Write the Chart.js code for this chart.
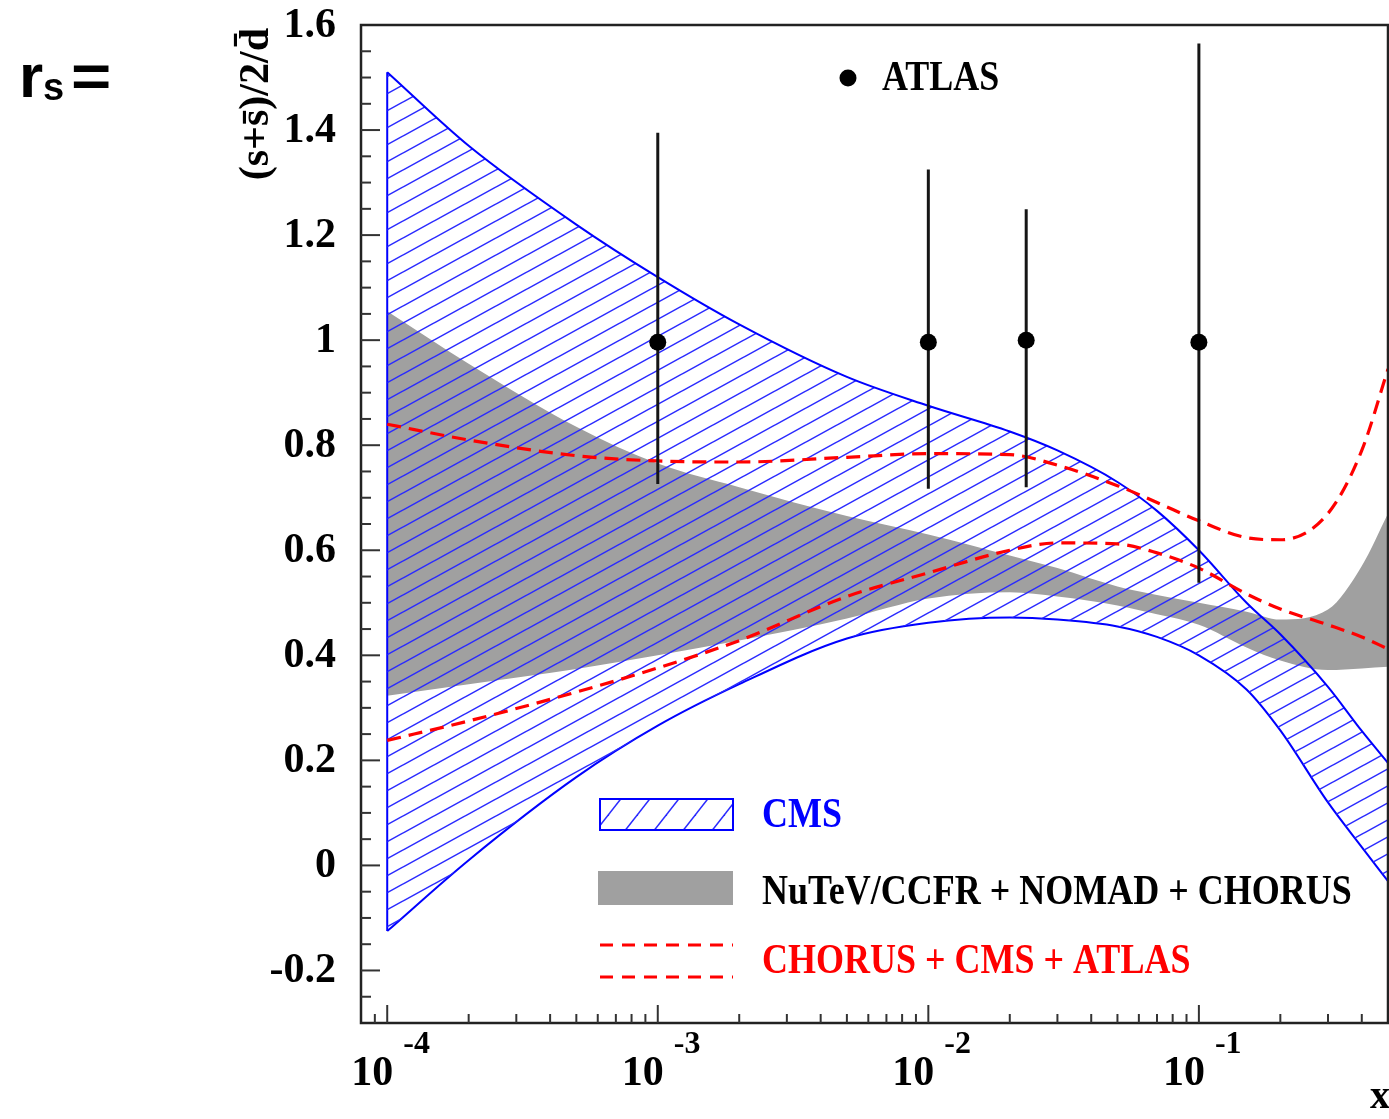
<!DOCTYPE html>
<html>
<head>
<meta charset="utf-8">
<script src="https://cdn.jsdelivr.net/npm/chart.js@4.4.1/dist/chart.umd.min.js"></script>
<style>
  html, body { margin: 0; padding: 0; background: #fff; }
  canvas { display: block; }
</style>
</head>
<body>
<canvas id="rs" width="1389" height="1119"></canvas>
<script>
const xGrid = [1e-4, 2e-4, 5e-4, 1e-3, 2e-3, 5e-3, 1e-2, 2e-2, 3e-2, 5e-2, 7e-2, 0.1, 0.15, 0.2, 0.3, 0.4, 0.5];

// CMS band (blue hatched)
const cmsHi = [1.51, 1.37, 1.22, 1.12, 1.03, 0.93, 0.875, 0.826, 0.79, 0.73, 0.675, 0.60, 0.50, 0.44, 0.34, 0.256, 0.195];
const cmsLo = [-0.125, 0.01, 0.168, 0.266, 0.345, 0.432, 0.462, 0.472, 0.468, 0.455, 0.435, 0.40, 0.335, 0.257, 0.12, 0.035, -0.03];

// NuTeV/CCFR + NOMAD + CHORUS band (grey)
const grayHi = [1.055, 0.955, 0.835, 0.765, 0.72, 0.665, 0.63, 0.59, 0.566, 0.531, 0.515, 0.50, 0.483, 0.468, 0.487, 0.57, 0.67];
const grayLo = [0.323, 0.345, 0.374, 0.40, 0.428, 0.47, 0.508, 0.52, 0.512, 0.495, 0.478, 0.458, 0.415, 0.39, 0.372, 0.375, 0.378];

// CHORUS + CMS + ATLAS (red dashed)
const redHi = [0.84, 0.81, 0.78, 0.77, 0.768, 0.777, 0.784, 0.782, 0.762, 0.723, 0.691, 0.656, 0.624, 0.62, 0.67, 0.79, 0.945];
const redLo = [0.238, 0.275, 0.33, 0.376, 0.428, 0.512, 0.557, 0.60, 0.614, 0.612, 0.595, 0.566, 0.517, 0.488, 0.458, 0.435, 0.412];

// ATLAS points
const atlasX = [0.001, 0.01, 0.023, 0.1];
const atlasY = [0.996, 0.996, 1.0, 0.996];
const atlasLo = [0.726, 0.717, 0.72, 0.538];
const atlasHi = [1.395, 1.325, 1.249, 1.565];

const decades = [-4, -3, -2, -1];
const yLabels = ["-0.2", "0", "0.2", "0.4", "0.6", "0.8", "1", "1.2", "1.4", "1.6"];

const SERIF = "'Liberation Serif', 'Times New Roman', serif";
const pts = (ys) => xGrid.map((x, i) => ({ x: x, y: ys[i] }));

function hatch(w, h, color, lw) {
  const c = document.createElement("canvas");
  c.width = w;
  c.height = h;
  const g = c.getContext("2d");
  g.strokeStyle = color;
  g.lineWidth = lw;
  for (const dy of [-h, 0, h]) {
    g.beginPath();
    g.moveTo(-w, 2 * h + dy);
    g.lineTo(2 * w, -h + dy);
    g.stroke();
  }
  return g.createPattern(c, "repeat");
}

const cmsHatch = hatch(31, 17, "#2a2aff", 1.5);
const legendHatch = hatch(29, 37, "#2a2aff", 1.5);

function txt(ctx, s, x, y, size, color, align, sy) {
  ctx.save();
  ctx.translate(x, y);
  ctx.scale(1, sy || 1);
  ctx.font = "bold " + size + "px " + SERIF;
  ctx.fillStyle = color;
  ctx.textAlign = align || "left";
  ctx.textBaseline = "middle";
  ctx.fillText(s, 0, 0);
  ctx.restore();
}

const decor = {
  id: "decor",
  beforeDatasetDraw(chart, args) {
    if (args.index !== 0) return;
    const { ctx, scales: { x, y } } = chart;
    ctx.save();
    ctx.strokeStyle = "#151515";
    ctx.lineWidth = 3;
    atlasX.forEach((v, i) => {
      const px = x.getPixelForValue(v);
      ctx.beginPath();
      ctx.moveTo(px, y.getPixelForValue(atlasLo[i]));
      ctx.lineTo(px, y.getPixelForValue(atlasHi[i]));
      ctx.stroke();
    });
    ctx.restore();
  },
  afterDraw(chart) {
    const { ctx, chartArea: a, scales: { x, y } } = chart;
    ctx.save();

    // frame
    ctx.strokeStyle = "#222";
    ctx.lineWidth = 2.5;
    ctx.strokeRect(a.left, a.top, a.right - a.left, a.bottom - a.top);

    // y ticks, pointing into the frame
    ctx.lineWidth = 2;
    ctx.strokeStyle = "#333";
    for (let k = -5; k <= 31; k++) {
      const py = y.getPixelForValue(k * 0.05);
      const len = k % 4 === 0 ? 19 : 10;
      ctx.beginPath();
      ctx.moveTo(a.left, py);
      ctx.lineTo(a.left + len, py);
      ctx.stroke();
    }
    // x ticks
    for (let e = -5; e <= 0; e++) {
      for (let m = 1; m <= 9; m++) {
        const v = m * Math.pow(10, e);
        if (v <= x.min * 1.01 || v >= x.max * 0.99) continue;
        const px = x.getPixelForValue(v);
        ctx.beginPath();
        ctx.moveTo(px, a.bottom);
        ctx.lineTo(px, a.bottom - (m === 1 ? 18 : 9));
        ctx.stroke();
      }
    }

    // y tick labels
    yLabels.forEach((s) => {
      txt(ctx, s, 336, y.getPixelForValue(parseFloat(s)) + 1, 42, "#000", "right");
    });
    // x tick labels 10^n
    decades.forEach((e) => {
      const px = x.getPixelForValue(Math.pow(10, e));
      txt(ctx, "10", px + 6, 1074, 42, "#000", "right");
      txt(ctx, String(e), px + 16, 1045, 32, "#000", "left");
    });
    txt(ctx, "x", 1370, 1098, 40, "#000", "left");

    // y axis title
    ctx.save();
    ctx.translate(257, 28);
    ctx.rotate(-Math.PI / 2);
    ctx.font = "bold 42px " + SERIF;
    ctx.fillStyle = "#000";
    ctx.textAlign = "right";
    ctx.textBaseline = "middle";
    ctx.fillText("(s+s\u0304)/2/d\u0304", 0, 0);
    ctx.restore();

    // r_s =
    ctx.fillStyle = "#000";
    ctx.textBaseline = "alphabetic";
    ctx.textAlign = "left";
    ctx.font = "bold 62px 'Liberation Sans', Arial, sans-serif";
    ctx.fillText("r", 19, 97);
    ctx.font = "bold 38px 'Liberation Sans', Arial, sans-serif";
    ctx.fillText("s", 43, 100);
    ctx.save();
    ctx.translate(71, 96);
    ctx.scale(1.15, 1);
    ctx.font = "bold 60px 'Liberation Sans', Arial, sans-serif";
    ctx.fillText("=", 0, 0);
    ctx.restore();

    // legend: ATLAS
    ctx.fillStyle = "#000";
    ctx.beginPath();
    ctx.arc(848, 78, 8.5, 0, Math.PI * 2);
    ctx.fill();
    txt(ctx, "ATLAS", 882, 79, 36, "#000", "left", 1.15);

    // legend: CMS
    ctx.fillStyle = legendHatch;
    ctx.fillRect(600, 799, 133, 31);
    ctx.strokeStyle = "#0000ff";
    ctx.lineWidth = 2;
    ctx.strokeRect(600, 799, 133, 31);
    txt(ctx, "CMS", 762, 816, 36, "#0000ff", "left", 1.15);

    // legend: grey band
    ctx.fillStyle = "#a0a0a0";
    ctx.fillRect(598, 871, 135, 34);
    txt(ctx, "NuTeV/CCFR + NOMAD + CHORUS", 762, 893, 36, "#000", "left", 1.15);

    // legend: red dashed
    ctx.strokeStyle = "#ff0000";
    ctx.lineWidth = 3.2;
    ctx.setLineDash([13, 9]);
    [945, 977].forEach((ly) => {
      ctx.beginPath();
      ctx.moveTo(600, ly);
      ctx.lineTo(733, ly);
      ctx.stroke();
    });
    ctx.setLineDash([]);
    txt(ctx, "CHORUS + CMS + ATLAS", 762, 962, 36, "#ff0000", "left", 1.15);

    ctx.restore();
  }
};

const ctx = document.getElementById("rs").getContext("2d");
new Chart(ctx, {
  type: "line",
  data: {
    datasets: [
      {
        label: "ATLAS",
        data: atlasX.map((x, i) => ({ x: x, y: atlasY[i] })),
        showLine: false,
        pointRadius: 8.5,
        pointBackgroundColor: "#000",
        pointBorderWidth: 0,
        order: 0,
      },
      {
        label: "CHORUS + CMS + ATLAS (upper)",
        data: pts(redHi),
        borderColor: "#ff0000",
        borderWidth: 3.2,
        borderDash: [14, 8],
        pointRadius: 0,
        fill: false,
        order: 1,
      },
      {
        label: "CHORUS + CMS + ATLAS (lower)",
        data: pts(redLo),
        borderColor: "#ff0000",
        borderWidth: 3.2,
        borderDash: [14, 8],
        pointRadius: 0,
        fill: false,
        order: 1,
      },
      {
        label: "CMS (upper)",
        data: pts(cmsHi),
        borderColor: "#0000ff",
        borderWidth: 2,
        pointRadius: 0,
        fill: "+1",
        backgroundColor: cmsHatch,
        order: 2,
      },
      {
        label: "CMS (lower)",
        data: pts(cmsLo),
        borderColor: "#0000ff",
        borderWidth: 2,
        pointRadius: 0,
        fill: false,
        order: 2,
      },
      {
        label: "CMS (edge)",
        data: [{ x: xGrid[0], y: cmsLo[0] }, { x: xGrid[0], y: cmsHi[0] }],
        borderColor: "#0000ff",
        borderWidth: 2,
        pointRadius: 0,
        tension: 0,
        cubicInterpolationMode: "default",
        fill: false,
        order: 2,
      },
      {
        label: "NuTeV/CCFR + NOMAD + CHORUS (upper)",
        data: pts(grayHi),
        borderColor: "rgba(0,0,0,0)",
        borderWidth: 0,
        pointRadius: 0,
        fill: "+1",
        backgroundColor: "#a0a0a0",
        order: 5,
      },
      {
        label: "NuTeV/CCFR + NOMAD + CHORUS (lower)",
        data: pts(grayLo),
        borderColor: "rgba(0,0,0,0)",
        borderWidth: 0,
        pointRadius: 0,
        fill: false,
        order: 5,
      },
    ],
  },
  options: {
    responsive: false,
    animation: false,
    devicePixelRatio: 1,
    layout: { autoPadding: false, padding: { left: 361, right: 1, top: 25, bottom: 96 } },
    elements: { line: { cubicInterpolationMode: "monotone" } },
    scales: {
      x: { type: "logarithmic", min: 8e-5, max: 0.5, display: false },
      y: { type: "linear", min: -0.3, max: 1.6, display: false },
    },
    plugins: {
      legend: { display: false },
      tooltip: { enabled: false },
    },
  },
  plugins: [decor],
});
</script>
</body>
</html>
